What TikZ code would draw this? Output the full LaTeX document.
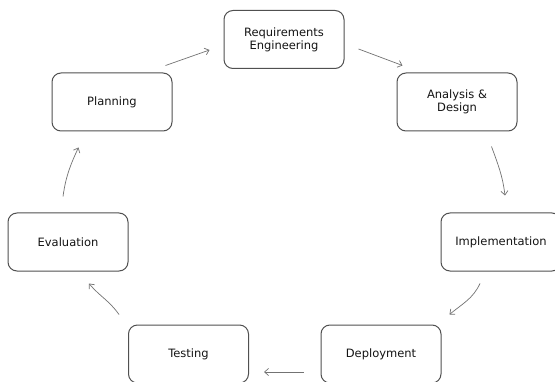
\documentclass[tikz,border=0pt]{standalone}
\usepackage{fontspec}
\setmainfont{DejaVu Sans}
\usetikzlibrary{arrows.meta}
\definecolor{boxline}{RGB}{80,80,80}
\definecolor{arrline}{RGB}{115,115,115}
\definecolor{txt}{RGB}{20,20,20}
\begin{document}
\begin{tikzpicture}[x=1pt,y=1pt,
  stagebox/.style={draw=boxline, line width=1pt, rounded corners=9pt,
    minimum width=120pt, minimum height=58pt, align=center, text=txt,
    font=\fontsize{11.5}{13}\selectfont, inner sep=0pt},
  arr/.style={draw=arrline, line width=0.7pt, -{Straight Barb[length=4pt,width=7pt]}}]
\useasboundingbox (0,0) rectangle (555,381);
\fill[white] (0,0) rectangle (555,381);
\node[stagebox] (R) at (284,341.5) {Requirements\\Engineering};
\node[stagebox] (P) at (112,279) {Planning};
\node[stagebox] (A) at (457,279) {Analysis \&\\Design};
\node[stagebox] (E) at (68,139) {Evaluation};
\node[stagebox] (I) at (501,139) {Implementation};
\node[stagebox] (T) at (188.5,27) {Testing};
\node[stagebox] (D) at (381,27) {Deployment};
\draw[arr] ([shift={(-7,7)}]P.north east) -- ([shift={(-14,-10.5)}]R.west);
\draw[arr] ([shift={(14,-9.5)}]R.east) -- ([shift={(6,7)}]A.north west);
\draw[arr] ([shift={(-26,-15)}]A.south east) to[out=-70,in=97] ([shift={(4,17)}]I.north);
\draw[arr] ([shift={(-21,-12)}]I.south) to[out=-115,in=40] ([shift={(8,10)}]D.north east);
\draw[arr] ([shift={(-17,-18)}]D.west) -- ([shift={(15,-18)}]T.east);
\draw[arr] ([shift={(-9,10)}]T.north west) to[out=125,in=-50] ([shift={(21,-12)}]E.south);
\draw[arr] ([shift={(-5,16)}]E.north) to[out=82,in=-115] ([shift={(27,-16)}]P.south west);
\end{tikzpicture}
\end{document}
